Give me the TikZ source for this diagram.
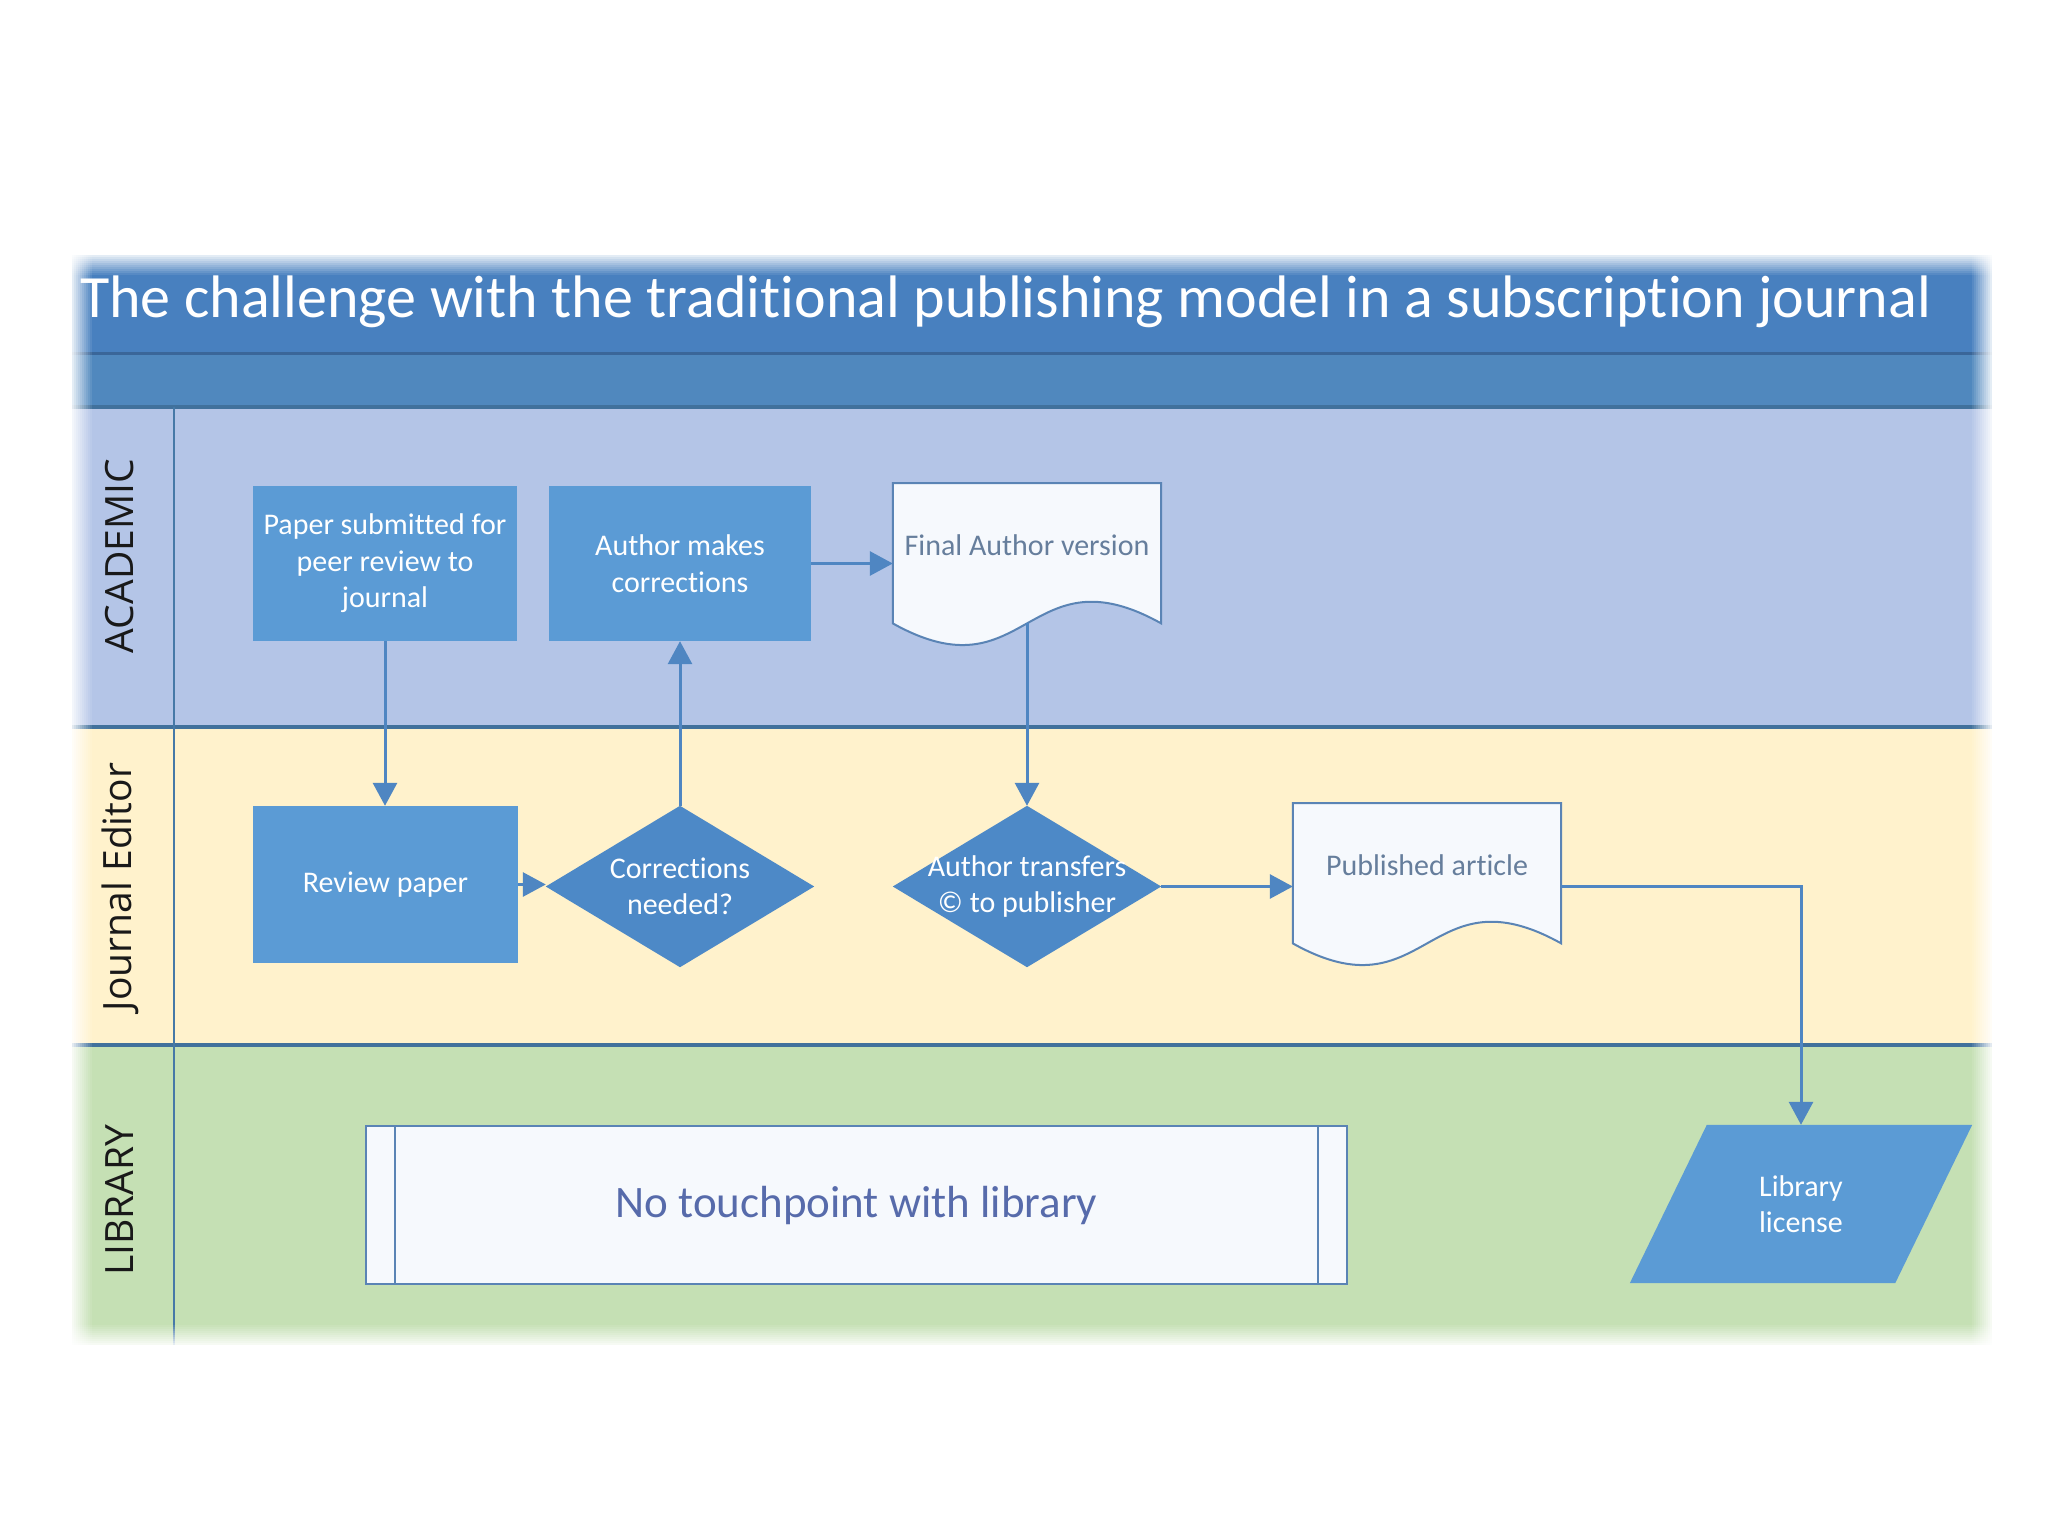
\documentclass[tikz,border=0pt]{standalone}
\usepackage{fontspec}
\setmainfont[Ligatures=NoCommon]{Carlito}
\newfontfamily\lanefont{Open Sans}
\usetikzlibrary{arrows.meta,calc}
\definecolor{titleblue}{HTML}{4880BF}
\definecolor{subblue}{HTML}{5088BE}
\definecolor{acadfill}{HTML}{B4C5E7}
\definecolor{journfill}{HTML}{FFF2CC}
\definecolor{libfill}{HTML}{C5E0B4}
\definecolor{sepcol}{HTML}{41719C}
\definecolor{boxblue}{HTML}{5B9BD5}
\definecolor{diablue}{HTML}{4D89C7}
\definecolor{arrowcol}{HTML}{4F86C2}
\definecolor{doctext}{HTML}{667E9C}
\definecolor{docline}{HTML}{5A84B5}
\definecolor{docfill}{HTML}{F6F9FD}
\pgfdeclarelayer{lanes}
\pgfdeclarelayer{shapes}
\pgfdeclarelayer{fx}
\pgfsetlayers{lanes,shapes,main,fx}
\begin{document}
\begin{tikzpicture}[x=1pt,y=-1pt,
  boxtext/.style={font=\fontsize{30}{36.5}\selectfont, align=center},
  procbox/.style={boxtext, rectangle, fill=boxblue, text=white, inner sep=0pt},
  shapenode/.style={boxtext, rectangle, draw=none, inner sep=0pt, text=white},
  docnode/.style={font=\fontsize{30}{36.5}\selectfont, rectangle, draw=none, inner sep=0pt,
     text height=72pt, text depth=68pt, minimum width=268pt, text=doctext},
  docshape/.style={draw=docline, line width=2pt, fill=docfill},
  lanelabel/.style={font=\lanefont\fontsize{39}{44}\selectfont, rotate=90, text=black!90, inner sep=0pt},
  sepline/.style={draw=sepcol, line width=4pt},
  flow/.style={draw=arrowcol, line width=3pt, -{Triangle[length=23pt,width=24pt]}},
]
\useasboundingbox (0,0) rectangle (2048,1536);

% ---------- lanes ----------
\begin{pgfonlayer}{lanes}
\fill[white] (0,0) rectangle (2048,1536);
\fill[titleblue] (72,255) rectangle (1992,353);
\fill[subblue] (72,353) rectangle (1992,407);
\fill[acadfill] (72,407) rectangle (1992,727);
\fill[journfill] (72,727) rectangle (1992,1045);
\fill[libfill] (72,1045) rectangle (1992,1345);
\draw[draw=titleblue!80!black, line width=3pt] (72,353) -- (1992,353);
\draw[sepline] (72,407) -- (1992,407);
\draw[sepline] (72,727) -- (1992,727);
\draw[sepline] (72,1045) -- (1992,1045);
\draw[draw=sepcol!80!boxblue, line width=2pt] (174,407) -- (174,1345);
\end{pgfonlayer}

% ---------- title and lane labels ----------
\node[anchor=base west, font=\fontsize{60}{66}\selectfont, text=white, inner sep=0pt] (title) at (80,317)
  {The challenge with the traditional publishing model in a subscription journal};
\node[lanelabel] (lacad) at (120,556) {ACADEMIC};
\node[lanelabel] (ljourn) at (120,887) {Journal Editor};
\node[lanelabel] (llib) at (120,1200) {LIBRARY};

% ---------- nodes ----------
\node[procbox, minimum width=264pt, minimum height=155pt] (paper) at (385,563.5)
  {Paper submitted for\\peer review to\\journal};
\node[procbox, minimum width=262pt, minimum height=155pt] (author) at (680,563.5)
  {Author makes\\corrections};
\node[docnode, anchor=north] (final) at (1027,483) {Final Author version};
\node[procbox, minimum width=265pt, minimum height=157pt] (review) at (385.5,884.5)
  {Review paper};
\node[shapenode, minimum width=268pt, minimum height=161pt] (corr) at (680,886.5)
  {Corrections\\needed?};
\node[shapenode, minimum width=268pt, minimum height=161pt] (transfer) at (1027,886.5)
  {Author transfers\\\textcopyright{} to publisher};
\node[docnode, anchor=north] (published) at (1427,803) {Published article};
\node[rectangle, draw=docline, line width=2pt, fill=docfill, minimum width=981pt, minimum height=158pt,
      font=\fontsize{45}{50}\selectfont, text=doctext!85!blue] (notouch) at (856.5,1205)
  {No touchpoint with library};
\node[shapenode, minimum width=342pt, minimum height=158pt] (lic) at (1801,1204)
  {Library\\license};

% ---------- custom shapes ----------
\begin{pgfonlayer}{shapes}
\filldraw[docshape] (final.north west) -- (final.north east) -- (final.south east)
  .. controls ($(final.south)+(0,-75)$) and ($(final.south)+(0,75)$) .. (final.south west) -- cycle;
\filldraw[docshape] (published.north west) -- (published.north east) -- (published.south east)
  .. controls ($(published.south)+(0,-75)$) and ($(published.south)+(0,75)$) .. (published.south west) -- cycle;
\fill[diablue] (corr.north) -- (corr.east) -- (corr.south) -- (corr.west) -- cycle;
\fill[diablue] (transfer.north) -- (transfer.east) -- (transfer.south) -- (transfer.west) -- cycle;
\fill[boxblue] ($(lic.north west)+(77,0)$) -- (lic.north east) -- ($(lic.south east)+(-77,0)$) -- (lic.south west) -- cycle;
\end{pgfonlayer}
\draw[draw=docline, line width=2pt] ($(notouch.north west)+(30,0)$) -- ($(notouch.south west)+(30,0)$);
\draw[draw=docline, line width=2pt] ($(notouch.north east)+(-30,0)$) -- ($(notouch.south east)+(-30,0)$);

% ---------- connectors ----------
\draw[flow] (paper.south) -- (paper.south |- review.north);
\draw[flow] (review.east) -- (review.east -| corr.west);
\draw[flow] (corr.north) -- (author.south);
\draw[flow] (author.east) -- (author.east -| final.west);
\draw[flow] (final.south) -- (transfer.north);
\draw[flow] (transfer.east) -- (transfer.east -| published.west);
\draw[flow] (published.east |- transfer.east) -| (lic.north);

% ---------- soft edges ----------
\begin{pgfonlayer}{fx}
\foreach \i in {0,...,9} {
  \pgfmathsetmacro\op{0.85*(1-\i/10)}
  \fill[white, opacity=\op] (72+2*\i,255) rectangle (74+2*\i,1345);
  \fill[white, opacity=\op] (1990-2*\i,255) rectangle (1992-2*\i,1345);
  \fill[white, opacity=\op] (72,255+2*\i) rectangle (1992,257+2*\i);
  \fill[white, opacity=\op] (72,1343-2*\i) rectangle (1992,1345-2*\i);
}
\end{pgfonlayer}
\end{tikzpicture}
\end{document}
